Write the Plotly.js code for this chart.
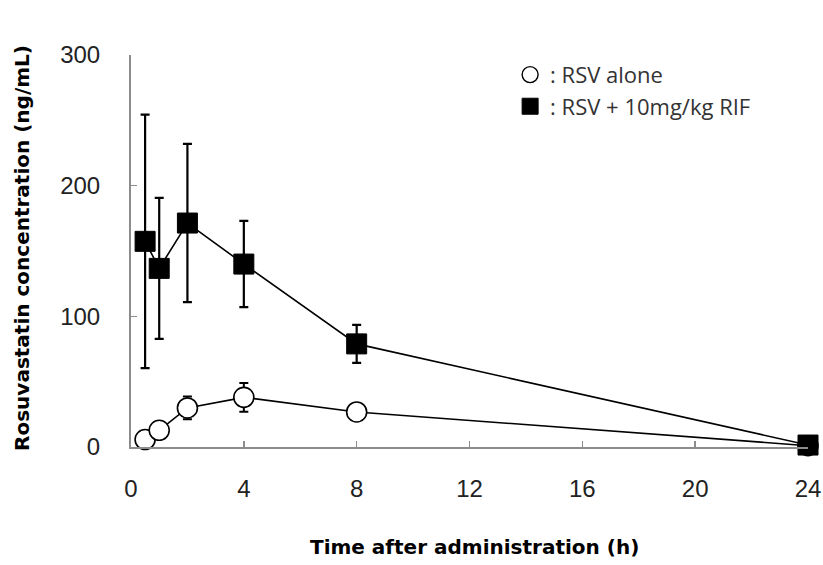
<!DOCTYPE html>
<html>
<head>
<meta charset="utf-8">
<script src="https://cdn.plot.ly/plotly-3.0.1.min.js"></script>
<style>html,body{margin:0;padding:0;background:#fff;}#chart{width:823px;height:565px;}</style>
</head>
<body>
<div id="chart"></div>
<script>
// Time points (h)
var timeH = [0.5, 1, 2, 4, 8, 24];
// RSV alone: mean and SD (ng/mL)
var aloneMean = [5.7, 12.8, 29.9, 38.0, 26.8, 1.0];
var aloneErr  = [1.0, 1.5, 8.7, 11.0, 2.0, 0.5];
// RSV + 10 mg/kg RIF: mean and SD (ng/mL)
var rifMean = [157.4, 136.7, 171.4, 140.0, 78.9, 1.5];
var rifErr  = [97.0, 54.0, 60.6, 33.0, 14.5, 3.0];
// Legend labels
var legendAlone = ': RSV alone';
var legendRif = ': RSV + 10mg/kg RIF';
var xTitle = 'Time after administration (h)';
var yTitle = 'Rosuvastatin concentration (ng/mL)';

var traces = [
  {
    x: timeH, y: aloneMean, type: 'scatter', mode: 'lines+markers',
    line: {color: '#000', width: 1.6},
    marker: {symbol: 'circle', size: 20, color: '#fff', line: {color: '#000', width: 1.6}},
    error_y: {type: 'data', array: aloneErr, visible: true, color: '#000', thickness: 2, width: 4.5},
    cliponaxis: false, showlegend: false, hoverinfo: 'skip'
  },
  {
    x: timeH, y: rifMean, type: 'scatter', mode: 'lines+markers',
    line: {color: '#000', width: 1.6},
    marker: {symbol: 'square', size: 20, color: '#000', line: {color: '#000', width: 1}},
    error_y: {type: 'data', array: rifErr, visible: true, color: '#000', thickness: 2.2, width: 4.5},
    cliponaxis: false, showlegend: false, hoverinfo: 'skip'
  },
  {
    x: [null], y: [null], type: 'scatter', mode: 'markers', name: legendAlone,
    legendgroup: 'a',
    marker: {symbol: 'circle', size: 20, color: '#fff', line: {color: '#000', width: 1.4}}
  },
  {
    x: [null], y: [null], type: 'scatter', mode: 'markers', name: legendRif,
    legendgroup: 'b',
    marker: {symbol: 'square', size: 20, color: '#000', line: {color: '#000', width: 1}}
  }
];

var axisCommon = {
  showline: true, linecolor: '#8c8c8c', linewidth: 2,
  ticks: 'inside', ticklen: 6, tickwidth: 1.5, tickcolor: '#8c8c8c',
  showgrid: false, zeroline: false, fixedrange: true,
  tickfont: {family: '"Liberation Sans", Arial, sans-serif', size: 24, color: '#222'}
};

var layout = {
  width: 823, height: 565,
  margin: {l: 131, r: 15, t: 55, b: 118},
  paper_bgcolor: '#fff', plot_bgcolor: '#fff',
  xaxis: Object.assign({}, axisCommon, {range: [0, 24], dtick: 4, tick0: 0, ticklabelstandoff: 19}),
  yaxis: Object.assign({}, axisCommon, {range: [0, 300], dtick: 100, tick0: 0, ticklabelstandoff: 24}),
  showlegend: true,
  legend: {
    x: 0.560, y: 1.003, xanchor: 'left', yanchor: 'top',
    bgcolor: 'rgba(0,0,0,0)', borderwidth: 0,
    tracegroupgap: 0, itemclick: false, itemdoubleclick: false,
    font: {family: '"Open Sans", sans-serif', size: 22, color: '#333'}
  },
  annotations: [
    {text: xTitle, xref: 'paper', yref: 'paper', x: 0.507, y: -0.256,
     xanchor: 'center', yanchor: 'middle', showarrow: false,
     font: {family: '"DejaVu Sans", sans-serif', size: 20, color: '#000', weight: 'bold'}},
    {text: yTitle, xref: 'paper', yref: 'paper', x: -0.16, y: 0.507, textangle: -90,
     xanchor: 'center', yanchor: 'middle', showarrow: false,
     font: {family: '"DejaVu Sans", sans-serif', size: 20, color: '#000', weight: 'bold'}}
  ]
};

Plotly.newPlot('chart', traces, layout, {displayModeBar: false, staticPlot: true});
</script>
</body>
</html>
